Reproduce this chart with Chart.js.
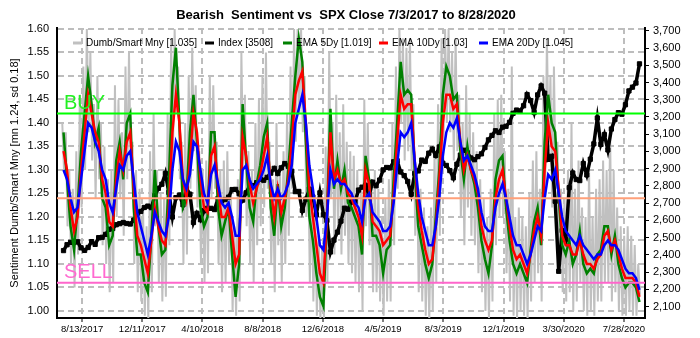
<!DOCTYPE html>
<html>
<head>
<meta charset="utf-8">
<script src="https://cdn.jsdelivr.net/npm/chart.js@4.4.1/dist/chart.umd.min.js"></script>
<style>
html, body { margin: 0; padding: 0; background: #fff; }
#myChart { display: block; }
</style>
</head>
<body>
<canvas id="myChart" width="700" height="338"></canvas>
<script>
// one value per week (Fridays), 7/7/2017 .. 8/28/2020, days counted from 7/3/2017
const startDay = new Date(2017, 6, 3);
const firstFriday = 4;

// Dumb/Smart money raw: weekly high and low swing
const dumbSmartHi = [
  1.40,1.38,1.30,1.26,1.34,1.46,1.52,1.60,1.55,1.44,1.50,
  1.40,1.35,1.28,1.30,1.48,1.45,1.38,1.52,1.55,1.36,
  1.30,1.26,1.22,1.18,1.34,1.42,1.30,1.25,1.24,1.42,
  1.58,1.60,1.52,1.36,1.40,1.50,1.56,1.48,1.34,1.30,1.32,
  1.50,1.48,1.36,1.30,1.32,1.34,1.26,1.18,1.28,
  1.55,1.46,1.34,1.30,1.40,1.45,1.50,1.55,1.36,1.28,
  1.40,1.30,1.34,1.42,1.52,1.60,1.60,1.60,1.50,1.34,
  1.28,1.20,1.16,1.14,1.35,1.55,1.40,1.46,1.38,1.44,1.36,1.34,
  1.33,1.30,1.26,1.45,1.40,1.28,1.30,1.26,1.20,1.24,1.28,1.40,
  1.52,1.60,1.58,1.56,1.58,1.44,1.30,1.26,1.22,1.18,1.22,1.34,
  1.44,1.58,1.60,1.60,1.55,1.58,1.46,1.40,1.48,1.42,1.38,1.34,
  1.28,1.24,1.20,1.26,1.42,1.45,1.46,1.34,1.26,1.52,1.20,1.22,
  1.20,1.18,1.25,1.32,1.34,1.26,1.50,1.58,1.50,1.52,1.36,
  1.26,1.24,1.30,1.40,1.26,1.32,1.22,1.20,1.30,1.20,1.26,1.28,
  1.32,1.30,1.38,1.30,1.22,1.18,1.16,1.18,1.16,1.14,1.10
];
const dumbSmartLo = [
  1.30,1.18,1.10,1.05,1.12,1.22,1.30,1.38,1.32,1.24,1.28,
  1.14,1.10,1.04,1.06,1.20,1.24,1.16,1.28,1.30,1.10,
  1.04,1.02,0.99,0.98,1.04,1.18,1.06,1.02,1.03,1.14,
  1.32,1.42,1.28,1.10,1.12,1.26,1.34,1.22,1.10,1.06,1.08,
  1.24,1.26,1.10,1.04,1.06,1.10,1.00,0.99,1.02,
  1.30,1.18,1.10,1.06,1.14,1.18,1.22,1.26,1.10,1.04,
  1.14,1.06,1.10,1.16,1.26,1.36,1.42,1.38,1.20,1.06,
  1.02,0.99,0.98,0.98,1.06,1.24,1.12,1.18,1.12,1.16,1.10,1.08,
  1.06,1.04,1.00,1.18,1.14,1.04,1.04,1.02,0.99,1.02,1.02,1.14,
  1.26,1.40,1.32,1.34,1.30,1.16,1.04,1.02,0.99,0.98,1.00,1.06,
  1.16,1.32,1.40,1.38,1.32,1.34,1.20,1.14,1.22,1.16,1.14,1.08,
  1.04,1.00,0.98,1.02,1.14,1.20,1.20,1.08,1.02,0.99,0.98,1.00,
  0.99,0.98,1.02,1.06,1.08,1.02,1.24,1.34,1.22,1.26,1.10,
  1.04,1.02,1.04,1.00,1.02,1.06,1.00,0.99,1.00,0.99,1.02,1.02,
  1.06,1.06,1.02,1.04,1.00,0.99,0.99,1.00,0.99,0.99,1.035
];
// SPX weekly close
const spxClose = [
  2425,2459,2473,2472,2476,2441,2426,2443,2477,2461,2500,2502,2519,2549,2553,2575,2581,2588,2582,2579,2602,2642,2652,2675,2683,2674,
  2743,2786,2810,2873,2762,2620,2732,2747,2691,2786,2752,2588,2641,2604,2656,2670,2670,2663,2728,2713,2721,2735,2779,2780,2755,2718,
  2760,2801,2802,2819,2840,2833,2850,2874,2902,2872,2905,2930,2914,2885,2767,2768,2658,2723,2781,2736,2633,2760,2633,2600,2417,2486,2532,
  2596,2671,2665,2707,2708,2776,2793,2804,2743,2822,2801,2834,2893,2907,2905,2940,2946,2881,2860,2826,2752,2873,2887,2950,2942,
  2990,3014,2977,3026,2932,2919,2889,2847,2926,2979,3007,2992,2962,2952,2970,2986,3023,3067,3093,3120,3110,3141,3146,3169,3221,3240,3235,
  3265,3330,3295,3226,3328,3380,3338,2954,2972,2711,2305,2541,2489,2790,2875,2837,2831,2930,2864,2955,3044,
  3194,3041,3098,3009,3130,3185,3225,3216,3271,3351,3373,3397,3508
];
const ema5 = [
  1.38,1.28,1.18,1.13,1.22,1.34,1.42,1.50,1.44,1.36,1.39,
  1.24,1.22,1.14,1.16,1.32,1.36,1.28,1.40,1.42,1.22,
  1.12,1.12,1.06,1.04,1.16,1.30,1.18,1.12,1.13,1.28,
  1.48,1.56,1.40,1.22,1.24,1.38,1.46,1.36,1.22,1.18,1.20,
  1.38,1.38,1.22,1.16,1.19,1.22,1.12,1.03,1.10,
  1.44,1.32,1.22,1.19,1.27,1.31,1.37,1.40,1.22,1.16,
  1.27,1.18,1.22,1.30,1.40,1.50,1.58,1.53,1.36,1.20,
  1.15,1.08,1.03,1.01,1.20,1.43,1.26,1.32,1.26,1.30,1.23,1.22,
  1.20,1.18,1.12,1.33,1.28,1.16,1.16,1.14,1.08,1.13,1.14,1.28,
  1.40,1.53,1.46,1.47,1.46,1.30,1.18,1.14,1.10,1.07,1.10,1.20,
  1.30,1.46,1.52,1.50,1.45,1.46,1.34,1.28,1.35,1.30,1.27,1.22,
  1.15,1.11,1.08,1.14,1.28,1.32,1.33,1.22,1.15,1.10,1.08,1.10,
  1.08,1.06,1.13,1.19,1.22,1.14,1.36,1.46,1.40,1.38,1.24,
  1.14,1.12,1.15,1.10,1.12,1.17,1.10,1.08,1.09,1.08,1.12,1.13,
  1.18,1.18,1.12,1.16,1.10,1.07,1.05,1.06,1.06,1.05,1.019
];
const ema10 = [
  1.34,1.30,1.22,1.17,1.20,1.30,1.38,1.46,1.42,1.38,1.36,
  1.28,1.25,1.19,1.18,1.28,1.34,1.30,1.36,1.38,1.26,
  1.16,1.14,1.11,1.08,1.15,1.22,1.18,1.15,1.14,1.22,
  1.38,1.46,1.40,1.28,1.24,1.32,1.42,1.38,1.28,1.22,1.21,
  1.33,1.35,1.26,1.20,1.20,1.22,1.16,1.10,1.12,
  1.37,1.33,1.27,1.23,1.26,1.29,1.33,1.37,1.26,1.20,
  1.26,1.21,1.24,1.28,1.36,1.46,1.49,1.51,1.40,1.26,
  1.20,1.14,1.08,1.06,1.20,1.38,1.28,1.30,1.27,1.28,1.25,1.24,
  1.22,1.20,1.16,1.30,1.27,1.19,1.18,1.17,1.14,1.15,1.16,1.25,
  1.36,1.46,1.43,1.44,1.44,1.32,1.22,1.17,1.13,1.10,1.11,1.18,
  1.28,1.40,1.46,1.46,1.43,1.44,1.36,1.30,1.33,1.30,1.28,1.25,
  1.18,1.15,1.13,1.15,1.24,1.28,1.30,1.24,1.18,1.13,1.11,1.12,
  1.10,1.08,1.12,1.17,1.20,1.16,1.30,1.40,1.35,1.34,1.26,
  1.16,1.14,1.14,1.12,1.12,1.15,1.12,1.10,1.10,1.09,1.11,1.12,
  1.16,1.17,1.13,1.15,1.12,1.09,1.07,1.07,1.07,1.06,1.03
];
const ema20 = [
  1.30,1.28,1.24,1.21,1.22,1.28,1.34,1.40,1.39,1.36,1.34,
  1.30,1.28,1.23,1.21,1.26,1.31,1.30,1.33,1.34,1.28,
  1.21,1.18,1.15,1.12,1.16,1.21,1.19,1.17,1.16,1.20,
  1.30,1.36,1.34,1.28,1.26,1.29,1.36,1.35,1.30,1.25,1.23,
  1.29,1.31,1.27,1.23,1.22,1.23,1.20,1.16,1.16,
  1.30,1.31,1.28,1.26,1.27,1.28,1.30,1.33,1.27,1.24,
  1.26,1.24,1.25,1.27,1.31,1.40,1.43,1.46,1.40,1.31,
  1.26,1.20,1.14,1.13,1.20,1.30,1.27,1.28,1.27,1.27,1.26,1.25,
  1.23,1.22,1.19,1.24,1.25,1.21,1.20,1.19,1.17,1.17,1.18,1.23,
  1.31,1.38,1.37,1.38,1.40,1.32,1.25,1.20,1.17,1.14,1.14,1.18,
  1.24,1.33,1.38,1.40,1.39,1.41,1.36,1.32,1.33,1.31,1.29,1.26,
  1.21,1.18,1.17,1.17,1.22,1.25,1.27,1.24,1.20,1.16,1.14,1.14,
  1.12,1.10,1.12,1.15,1.18,1.17,1.24,1.29,1.28,1.30,1.25,
  1.20,1.17,1.16,1.15,1.14,1.16,1.14,1.13,1.12,1.11,1.12,1.12,
  1.14,1.15,1.14,1.14,1.13,1.11,1.09,1.08,1.08,1.07,1.045
];

// mean +/- one sd
const buyLevel = 1.42;
const meanLevel = 1.24;
const sellLevel = 1.06;

const leftTicks = [1.00,1.05,1.10,1.15,1.20,1.25,1.30,1.35,1.40,1.45,1.50,1.55,1.60];
const rightTicks = [2100,2200,2300,2400,2500,2600,2700,2800,2900,3000,3100,3200,3300,3400,3500,3600,3700];
const xTickDays = [41,161,281,401,521,641,761,881,1001,1121];

const legendItems = [
  { text: 'Dumb/Smart Mny [1.035]', color: '#c0c0c0', x: 86 },
  { text: 'Index [3508]', color: '#000000', x: 218 },
  { text: 'EMA 5Dy [1.019]', color: '#008000', x: 296 },
  { text: 'EMA 10Dy [1.03]', color: '#ff0000', x: 392 },
  { text: 'EMA 20Dy [1.045]', color: '#0000ff', x: 492 }
];

const FONT = '"Liberation Sans", Arial, sans-serif';
const X_MIN = -9, X_MAX = 1163;

function weekDay(i) { return firstFriday + 7 * i; }
function toPoints(arr) { return arr.map((v, i) => ({ x: weekDay(i), y: v })); }
function fmtDate(day) {
  const d = new Date(startDay.getFullYear(), startDay.getMonth(), startDay.getDate() + day);
  return (d.getMonth() + 1) + '/' + d.getDate() + '/' + d.getFullYear();
}

// raw series zig-zags between the weekly high and low
const rawPoints = [];
dumbSmartHi.forEach((v, i) => {
  rawPoints.push({ x: weekDay(i) - 2.5, y: v });
  rawPoints.push({ x: weekDay(i) + 1, y: dumbSmartLo[i] });
});

function levelLine(level, color) {
  return {
    data: [{ x: X_MIN, y: level }, { x: X_MAX, y: level }],
    borderColor: color, borderWidth: 2, pointRadius: 0, yAxisID: 'y', order: 0
  };
}

const decor = {
  id: 'decor',
  afterDraw(chart) {
    const ctx = chart.ctx;
    ctx.save();
    // title
    ctx.fillStyle = '#000';
    ctx.font = 'bold 13px ' + FONT;
    ctx.textAlign = 'center';
    ctx.textBaseline = 'middle';
    ctx.fillText('Bearish  Sentiment vs  SPX Close 7/3/2017 to 8/28/2020', 346, 15);

    // legend inside the plot
    ctx.font = '10px ' + FONT;
    ctx.textAlign = 'left';
    legendItems.forEach(it => {
      ctx.strokeStyle = it.color;
      ctx.lineWidth = 3;
      ctx.beginPath();
      ctx.moveTo(it.x - 13, 43);
      ctx.lineTo(it.x - 4, 43);
      ctx.stroke();
      ctx.fillStyle = '#000';
      ctx.fillText(it.text, it.x, 43);
    });

    // BUY / SELL labels
    const yScale = chart.scales.y;
    ctx.font = '20px ' + FONT;
    ctx.textBaseline = 'alphabetic';
    ctx.fillStyle = '#22f022';
    ctx.fillText('BUY', 64, yScale.getPixelForValue(buyLevel) - 5);
    ctx.fillStyle = '#ff6ad0';
    ctx.fillText('SELL', 64, yScale.getPixelForValue(sellLevel) - 5);
    ctx.restore();
  }
};

const gridDash = [6, 4];

new Chart(document.getElementById('myChart'), {
  type: 'line',
  data: {
    datasets: [
      levelLine(buyLevel, '#00ff00'),
      levelLine(meanLevel, '#ffa07a'),
      levelLine(sellLevel, '#ff66cc'),
      { label: 'EMA 20Dy', data: toPoints(ema20), borderColor: '#0000ff', borderWidth: 2.5, pointRadius: 0, yAxisID: 'y', order: 1 },
      { label: 'EMA 10Dy', data: toPoints(ema10), borderColor: '#ff0000', borderWidth: 2.5, pointRadius: 0, yAxisID: 'y', order: 2 },
      { label: 'EMA 5Dy', data: toPoints(ema5), borderColor: '#008000', borderWidth: 2.5, pointRadius: 0, yAxisID: 'y', order: 3 },
      { label: 'Index', data: toPoints(spxClose), borderColor: '#000', backgroundColor: '#000', borderWidth: 3.5,
        pointStyle: 'rect', pointRadius: 3, pointBorderWidth: 1, pointBorderColor: '#000', pointBackgroundColor: '#000',
        yAxisID: 'y2', order: 4 },
      { label: 'Dumb/Smart Mny', data: rawPoints, borderColor: '#c0c0c0', borderWidth: 2, pointRadius: 0, yAxisID: 'y', order: 5 }
    ]
  },
  options: {
    responsive: false,
    animation: false,
    devicePixelRatio: 1,
    layout: { padding: { top: 28, left: 0, right: 0, bottom: 0 } },
    elements: { line: { tension: 0 } },
    plugins: { legend: { display: false }, tooltip: { enabled: false }, title: { display: false } },
    scales: {
      x: {
        type: 'linear', min: X_MIN, max: X_MAX,
        afterBuildTicks: a => { a.ticks = xTickDays.map(v => ({ value: v })); },
        afterFit: s => { s.height = 20; },
        grid: { color: '#bdbdbd', lineWidth: 2, tickColor: '#000', tickLength: 4, tickWidth: 1, tickBorderDash: [] },
        border: { display: true, color: '#000', width: 2, dash: gridDash },
        ticks: { callback: v => fmtDate(v), font: { family: FONT, size: 9.5 }, color: '#000', padding: 2, maxRotation: 0, autoSkip: false }
      },
      y: {
        position: 'left', min: 0.985, max: 1.602,
        afterBuildTicks: a => { a.ticks = leftTicks.map(v => ({ value: v })); },
        afterFit: s => { s.width = 57; },
        grid: { color: '#bdbdbd', lineWidth: 2, drawTicks: false },
        border: { display: true, color: '#000', width: 2, dash: gridDash },
        ticks: { callback: v => v.toFixed(2), font: { family: FONT, size: 11 }, color: '#000', padding: 8 },
        title: { display: true, text: 'Sentiment Dumb/Smart Mny [mn 1.24, sd 0.18]', font: { family: FONT, size: 11 }, color: '#000', padding: { top: 8, bottom: 0 } }
      },
      y2: {
        position: 'right', min: 2034, max: 3716,
        afterBuildTicks: a => { a.ticks = rightTicks.map(v => ({ value: v })); },
        afterFit: s => { s.width = 55; },
        grid: { drawOnChartArea: false, drawTicks: true, tickLength: 4, tickColor: '#000', color: '#000' },
        border: { display: true, color: '#000', width: 2 },
        ticks: { callback: v => v.toLocaleString('en-US'), font: { family: FONT, size: 11 }, color: '#000', padding: 4 }
      }
    }
  },
  plugins: [decor]
});
</script>
</body>
</html>
